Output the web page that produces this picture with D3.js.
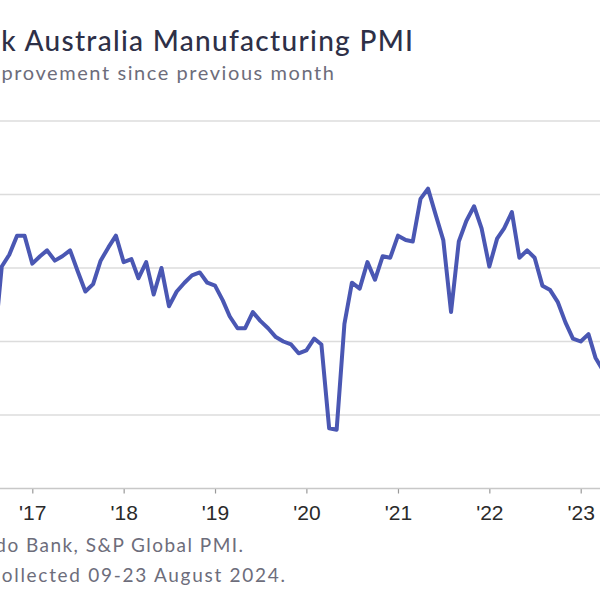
<!DOCTYPE html>
<html>
<head>
<meta charset="utf-8">
<script src="https://cdn.jsdelivr.net/npm/d3@7"></script>
<style>
html,body{margin:0;padding:0;background:#fff;overflow:hidden;}
svg{display:block;}
</style>
</head>
<body>
<script>
// ---- data ----
const months = [
"2016-08","2016-09","2016-10","2016-11","2016-12",
"2017-01","2017-02","2017-03","2017-04","2017-05","2017-06","2017-07","2017-08","2017-09","2017-10","2017-11","2017-12",
"2018-01","2018-02","2018-03","2018-04","2018-05","2018-06","2018-07","2018-08","2018-09","2018-10","2018-11","2018-12",
"2019-01","2019-02","2019-03","2019-04","2019-05","2019-06","2019-07","2019-08","2019-09","2019-10","2019-11","2019-12",
"2020-01","2020-02","2020-03","2020-04","2020-05","2020-06","2020-07","2020-08","2020-09","2020-10","2020-11","2020-12",
"2021-01","2021-02","2021-03","2021-04","2021-05","2021-06","2021-07","2021-08","2021-09","2021-10","2021-11","2021-12",
"2022-01","2022-02","2022-03","2022-04","2022-05","2022-06","2022-07","2022-08","2022-09","2022-10","2022-11","2022-12",
"2023-01","2023-02","2023-03","2023-04","2023-05"
];
const pmi = [
49.5,55.1,55.9,57.2,57.2,
55.3,55.8,56.2,55.5,55.8,56.2,54.8,53.4,53.9,55.5,56.4,57.2,
55.4,55.6,54.3,55.4,53.2,55.0,52.4,53.4,54.0,54.5,54.7,54.0,
53.8,52.8,51.7,50.9,50.9,52.0,51.4,50.9,50.3,50.0,49.8,49.2,
49.4,50.2,49.8,44.1,44.0,51.2,54.0,53.6,55.4,54.2,55.8,55.7,
57.2,56.9,56.8,59.7,60.4,58.6,56.9,52.0,56.8,58.2,59.2,57.7,
55.1,57.0,57.7,58.8,55.7,56.2,55.7,53.8,53.5,52.7,51.3,50.2,
50.0,50.5,48.9,48.0,48.4
];
const yTicks = [40,45,50,55,60,65];
const xTickYears = [2017,2018,2019,2020,2021,2022,2023];
const xTickLabels = ["'17","'18","'19","'20","'21","'22","'23"];
const titleText = "Judo Bank Australia Manufacturing PMI";
const subtitleText = ">50 = improvement since previous month";
const sourceLines = ["Source: Judo Bank, S&P Global PMI.","Data were collected 09-23 August 2024."];

// ---- chart ----
const W = 600, H = 600;
const parse = d3.timeParse("%Y-%m");
const data = months.map((m,i)=>({date:parse(m), v:pmi[i]}));

const svg = d3.select("body").append("svg").attr("width",W).attr("height",H);
svg.append("rect").attr("width",W).attr("height",H).attr("fill","#fff");

const x = d3.scaleTime()
  .domain([new Date(2017,0,1), new Date(2023,0,1)])
  .range([32.3, 580.7]);
const y = d3.scaleLinear().domain([40,65]).range([488.5,121]);

// gridlines
svg.append("g").selectAll("line").data(yTicks.filter(t=>t>40)).join("line")
  .attr("x1",-50).attr("x2",W)
  .attr("y1",d=>y(d)).attr("y2",d=>y(d))
  .attr("stroke","#dcdcdc").attr("stroke-width",1.5);

// x axis
const xAxis = d3.axisBottom(x)
  .tickValues(xTickYears.map(yr=>new Date(yr,0,1)))
  .tickFormat((d,i)=>xTickLabels[i])
  .tickSize(5).tickPadding(12);
const gx = svg.append("g").attr("transform",`translate(0,${y(40)})`).call(xAxis);
gx.select(".domain").remove();
gx.append("line").attr("x1",-50).attr("x2",W).attr("y1",0).attr("y2",0)
  .attr("stroke","#c8c8c8").attr("stroke-width",1.5);
gx.selectAll(".tick line").attr("stroke","#999").attr("stroke-width",1.2);
gx.selectAll(".tick text")
  .attr("font-family","'Liberation Sans', Arial, sans-serif")
  .attr("font-size",21).attr("fill","#2a2a2a");

// line
svg.append("path").datum(data)
  .attr("fill","none").attr("stroke","#4a57b3").attr("stroke-width",4)
  .attr("stroke-linejoin","round").attr("stroke-linecap","round")
  .attr("d", d3.line().x(d=>x(d.date)).y(d=>y(d.v)));

// text: full strings, right-aligned; letter-spacing tuned so the visible tail spans to the edge
const FONT = "Lato, 'Open Sans', sans-serif";
function addText(full, tail, endX, baseY, size, color, weight){
  const t = svg.append("text").attr("y",baseY).attr("text-anchor","end")
    .attr("font-family",FONT).attr("font-size",size).attr("font-weight",weight||400)
    .attr("fill",color);
  const probe = svg.append("text").attr("font-family",FONT).attr("font-size",size)
    .attr("font-weight",weight||400).text(tail);
  const w = probe.node().getComputedTextLength();
  probe.remove();
  const ls = Math.max(0,(endX - w)/tail.length);
  t.attr("letter-spacing",ls).attr("x",endX+ls).text(full);
  return t;
}
addText(titleText, "k Australia Manufacturing PMI", 413, 51, 28, "#2e3047", 500);
addText(subtitleText, "provement since previous month", 334, 80, 20, "#6d6d7b");
addText(sourceLines[0], "lo Bank, S&P Global PMI.", 243, 552, 19, "#6d6d7b");
addText(sourceLines[1], "ollected 09-23 August 2024.", 285, 582, 19, "#6d6d7b");
</script>
</body>
</html>
